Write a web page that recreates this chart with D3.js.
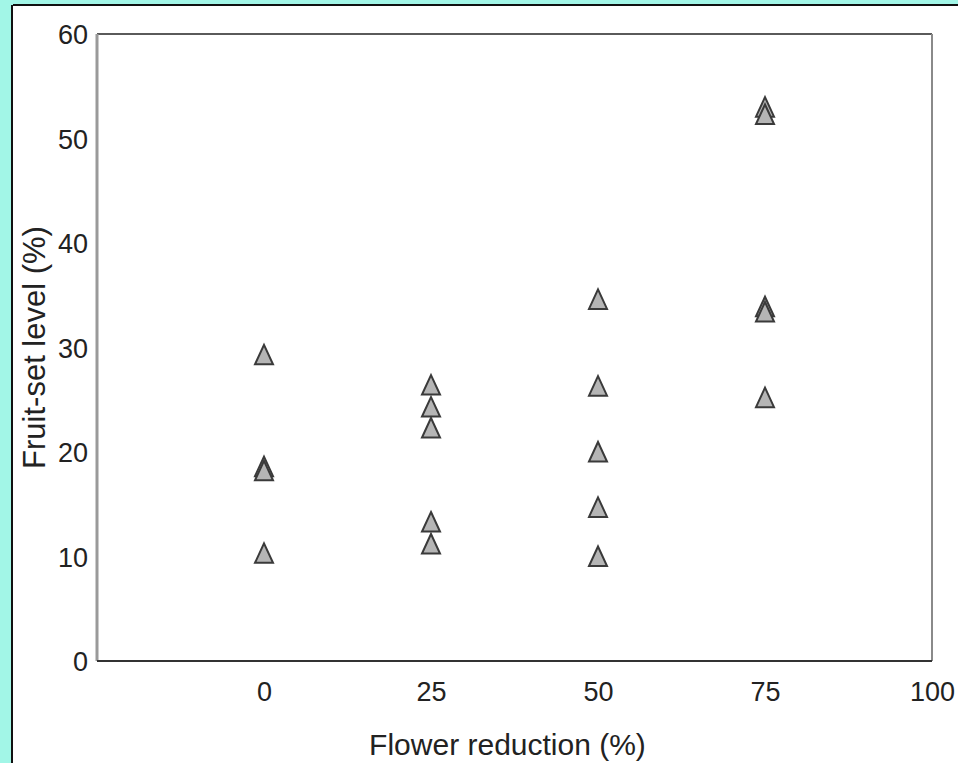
<!DOCTYPE html>
<html>
<head>
<meta charset="utf-8">
<script src="https://cdn.jsdelivr.net/npm/d3@7"></script>
<style>
  html, body { margin: 0; padding: 0; background: #a2f6e7; }
  svg { display: block; }
</style>
</head>
<body>
<svg id="chart" width="958" height="763"></svg>
<script>
// Data
const flowerReduction = [0, 0, 0, 0, 25, 25, 25, 25, 25, 50, 50, 50, 50, 50, 75, 75, 75, 75, 75];
const fruitSet = [29.3, 18.6, 18.2, 10.3, 26.4, 24.3, 22.3, 13.3, 11.2, 34.6, 26.3, 20.0, 14.7, 10.0, 53.0, 52.3, 33.9, 33.4, 25.2];
const xTicks = [0, 25, 50, 75, 100];
const yTicks = [0, 10, 20, 30, 40, 50, 60];
const xLabel = "Flower reduction (%)";
const yLabel = "Fruit-set level (%)";

const svg = d3.select("#chart");
const W = 958, H = 763;

// white panel with black border at left/top
svg.append("rect").attr("x", 13).attr("y", 6).attr("width", W - 13).attr("height", H - 6).attr("fill", "#ffffff");
svg.append("line").attr("x1", 13).attr("y1", 5).attr("x2", W).attr("y2", 5).attr("stroke", "#111").attr("stroke-width", 2);
svg.append("line").attr("x1", 12).attr("y1", 5).attr("x2", 12).attr("y2", H).attr("stroke", "#111").attr("stroke-width", 2);

const x = d3.scaleLinear().domain([-25, 100]).range([97, 932]);
const y = d3.scaleLinear().domain([0, 60]).range([661, 34]);

const font = "'Liberation Sans', Arial, sans-serif";

// frame
const x0 = x.range()[0], x1 = x.range()[1], y0 = y.range()[0], y1 = y.range()[1];
svg.append("line").attr("x1", x0).attr("y1", y1).attr("x2", x1).attr("y2", y1).attr("stroke", "#5a5a5a").attr("stroke-width", 2);
svg.append("line").attr("x1", x0).attr("y1", y1).attr("x2", x0).attr("y2", y0).attr("stroke", "#9a9a9a").attr("stroke-width", 3);
svg.append("line").attr("x1", x1).attr("y1", y1).attr("x2", x1).attr("y2", y0).attr("stroke", "#8a8a8a").attr("stroke-width", 2);
svg.append("line").attr("x1", x0).attr("y1", y0).attr("x2", x1).attr("y2", y0).attr("stroke", "#333").attr("stroke-width", 2);

// y axis tick labels
const yAxis = d3.axisLeft(y).tickValues(yTicks).tickSize(0).tickPadding(0).tickFormat(d3.format("d"));
const gy = svg.append("g").attr("transform", `translate(88,0)`).call(yAxis);
gy.select(".domain").remove();
gy.selectAll("text").attr("font-family", font).attr("font-size", 27).attr("fill", "#222").attr("dy", "0.36em").attr("x", 0);

// x axis tick labels
const xAxis = d3.axisBottom(x).tickValues(xTicks).tickSize(0).tickPadding(0).tickFormat(d3.format("d"));
const gx = svg.append("g").attr("transform", `translate(0,691)`).call(xAxis);
gx.select(".domain").remove();
gx.selectAll("text").attr("font-family", font).attr("font-size", 27).attr("fill", "#222").attr("dy", "0.36em").attr("y", 0);

// axis titles
svg.append("text").attr("x", (x0 + x1) / 2 - 7).attr("y", 744).attr("dy", "0.35em")
  .attr("text-anchor", "middle").attr("font-family", font).attr("font-size", 30).attr("fill", "#222").text(xLabel);
svg.append("text").attr("transform", `translate(45,${(y0 + y1) / 2}) rotate(-90)`)
  .attr("text-anchor", "middle").attr("font-family", font).attr("font-size", 31).attr("fill", "#222").text(yLabel);

// triangle markers
const tri = (cx, cy) => `M${cx},${cy - 10}L${cx + 9},${cy + 9.5}L${cx - 9},${cy + 9.5}Z`;
svg.append("g").selectAll("path")
  .data(flowerReduction.map((v, i) => ({ fx: v, fy: fruitSet[i] })))
  .join("path")
  .attr("d", d => tri(x(d.fx), y(d.fy)))
  .attr("fill", "#b5b5b5")
  .attr("stroke", "#3a3a3a")
  .attr("stroke-width", 2)
  .attr("stroke-linejoin", "miter");
</script>
</body>
</html>
